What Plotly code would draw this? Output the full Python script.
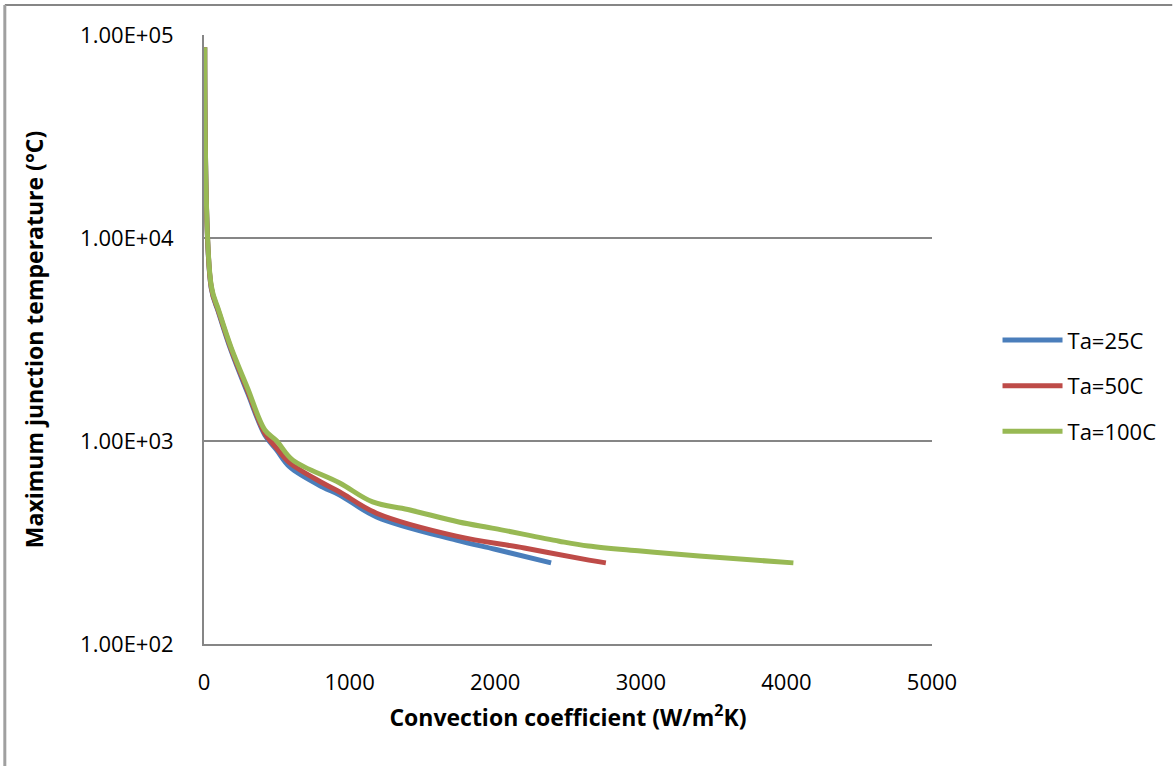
import plotly.graph_objects as go

# Convection coefficient (W/m2K) and max junction temperature (C)
h_25 = [5, 50, 100, 185, 300, 418, 500, 589, 815, 932, 1185, 1733, 2000, 2384]
t_25 = [87000, 5650, 4300, 2800, 1720, 1070, 900, 745, 593, 542, 423, 325, 293, 251]

h_50 = [5, 50, 100, 185, 300, 418, 500, 589, 815, 932, 1185, 1733, 2200, 2644, 2760]
t_50 = [87000, 5700, 4350, 2850, 1760, 1090, 920, 780, 621, 561, 441, 340, 297, 259, 251]

h_100 = [5, 50, 100, 185, 300, 418, 500, 610, 932, 1158, 1400, 1750, 2000, 2440, 2640, 3000, 3400, 4048]
t_100 = [87000, 5800, 4420, 2900, 1815, 1133, 1000, 805, 621, 501, 460, 399, 370, 321, 304, 287, 271, 251]

series_names = ["Ta=25C", "Ta=50C", "Ta=100C"]
series_colors = ["#4A7EBB", "#BE4B48", "#98B954"]

y_tickvals = [100, 1000, 10000, 100000]
y_ticktext = ["1.00E+02", "1.00E+03", "1.00E+04", "1.00E+05"]
x_tickvals = [0, 1000, 2000, 3000, 4000, 5000]

fig = go.Figure()
for h, t, name, col in zip([h_25, h_50, h_100], [t_25, t_50, t_100], series_names, series_colors):
    fig.add_trace(go.Scatter(x=h, y=t, mode="lines", name=name, legendgroup=name,
                             line=dict(color=col, width=5, shape="spline", smoothing=1.0)))

font_family = "Open Sans, Liberation Sans, sans-serif"
fig.update_layout(
    width=1174, height=766,
    margin=dict(l=204, r=239, t=35, b=122),
    paper_bgcolor="white", plot_bgcolor="white",
    font=dict(family=font_family, size=22, color="black"),
    showlegend=True,
    legend=dict(x=1.09, y=0.424, xanchor="left", yanchor="middle",
                font=dict(size=22), tracegroupgap=14, itemwidth=60,
                bgcolor="rgba(0,0,0,0)"),
    xaxis=dict(range=[0, 5000], tickvals=x_tickvals, showgrid=False,
               showline=True, linecolor="#868686", linewidth=2, ticks="",
               zeroline=False, tickfont=dict(size=22), ticklabelstandoff=18,
               title=dict(text="<b>Convection coefficient (W/m<sup>2</sup>K)</b>",
                          font=dict(size=23), standoff=14)),
    yaxis=dict(type="log", range=[2, 5], tickvals=y_tickvals, ticktext=y_ticktext,
               showgrid=True, gridcolor="#868686", gridwidth=2,
               showline=True, linecolor="#868686", linewidth=2, ticks="",
               zeroline=False, tickfont=dict(size=22), ticklabelstandoff=24,
               title=dict(text="<b>Maximum junction temperature (°C)</b>",
                          font=dict(size=23), standoff=30)),
)

# outer chart border (top and left)
fig.add_shape(type="line", xref="paper", yref="paper",
              x0=-0.2736, x1=1.33, y0=1.0493, y1=1.0493,
              line=dict(color="#868686", width=2))
fig.add_shape(type="line", xref="paper", yref="paper",
              x0=-0.2736, x1=-0.2736, y0=1.0493, y1=-0.21,
              line=dict(color="#A0A0A0", width=3))

fig.write_html("out.html")
